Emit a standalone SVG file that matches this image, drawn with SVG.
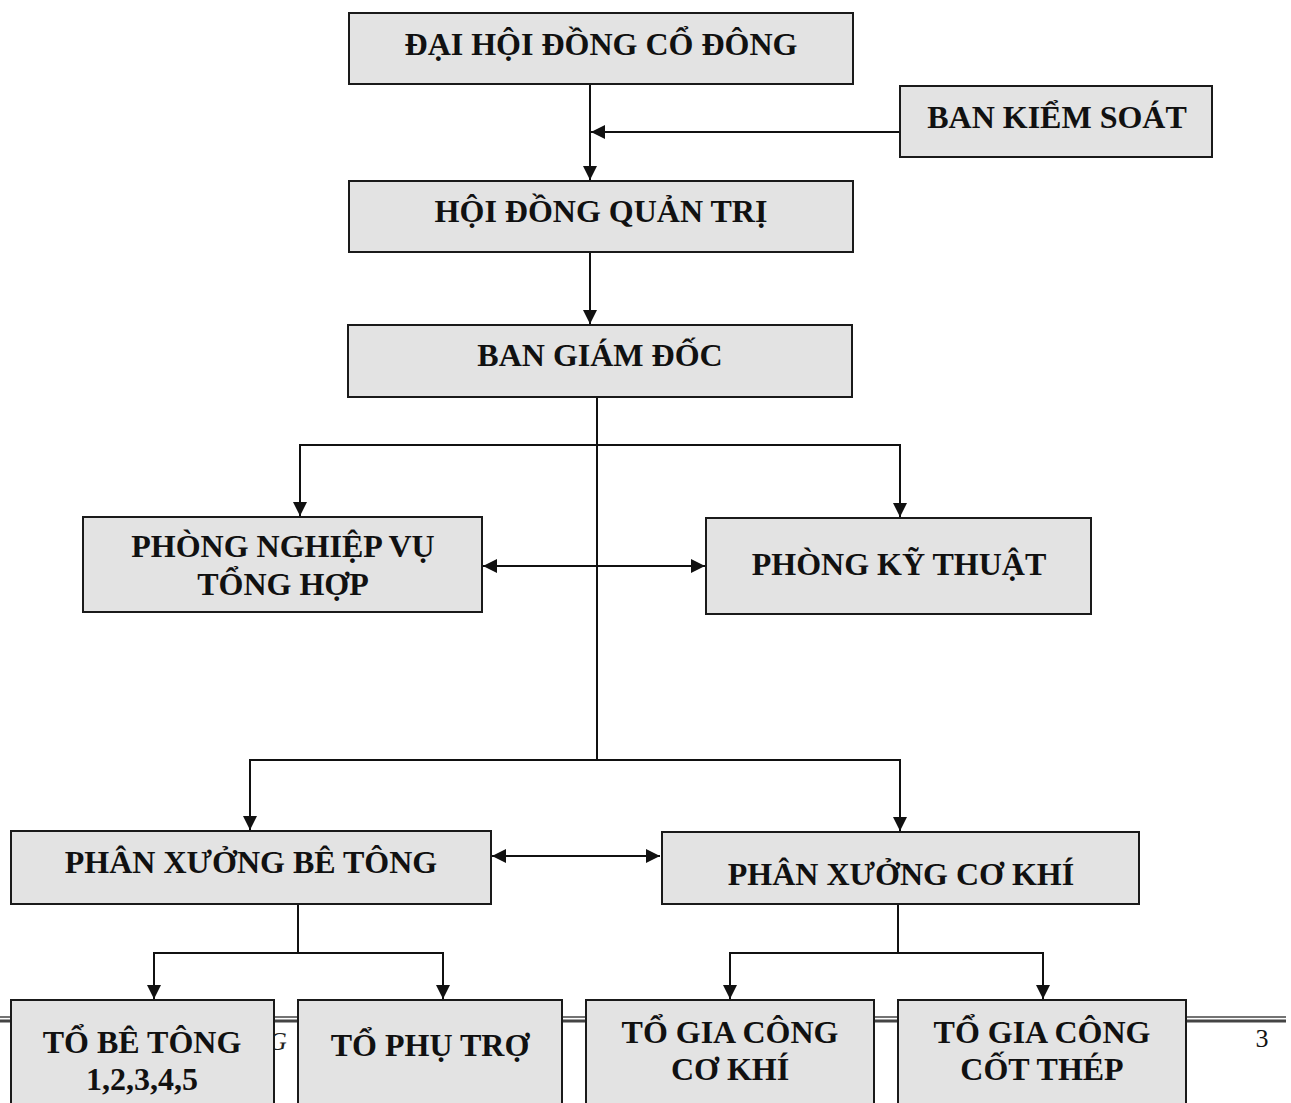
<svg xmlns="http://www.w3.org/2000/svg" width="1291" height="1103" viewBox="0 0 1291 1103">
<style>
.box{fill:#e3e3e3;stroke:#1a1a1a;stroke-width:2}
.t{font-family:"Liberation Serif","Times New Roman",serif;font-weight:bold;font-size:32px;fill:#111;text-anchor:middle}
.c{fill:none;stroke:#111;stroke-width:2}
</style>
<defs>
<marker id="ah" viewBox="0 0 14 14" refX="14" refY="7" markerWidth="14" markerHeight="14" markerUnits="userSpaceOnUse" orient="auto-start-reverse">
<path d="M0,0 L14,7 L0,14 Z" fill="#111"/>
</marker>
</defs>
<rect width="1291" height="1103" fill="#fff"/>
<g id="footer">
<line x1="0" y1="1017" x2="1286" y2="1017" stroke="#444" stroke-width="1.5"/>
<line x1="0" y1="1021" x2="1286" y2="1021" stroke="#444" stroke-width="3"/>
<text x="268" y="1050" font-family="Liberation Serif, serif" font-style="italic" font-size="26" fill="#222">G</text>
<text x="1262" y="1047" font-family="Liberation Serif, serif" font-size="26" fill="#111" text-anchor="middle">3</text>
</g>
<g id="connectors">
<line class="c" x1="590" y1="84" x2="590" y2="180" marker-end="url(#ah)"/>
<line class="c" x1="900" y1="132" x2="591" y2="132" marker-end="url(#ah)"/>
<line class="c" x1="590" y1="252" x2="590" y2="324" marker-end="url(#ah)"/>
<line class="c" x1="597" y1="397" x2="597" y2="760"/>
<polyline class="c" points="300,516 300,445 900,445 900,517" marker-start="url(#ah)" marker-end="url(#ah)"/>
<line class="c" x1="483" y1="566" x2="705" y2="566" marker-start="url(#ah)" marker-end="url(#ah)"/>
<polyline class="c" points="250,830 250,760 900,760 900,831" marker-start="url(#ah)" marker-end="url(#ah)"/>
<line class="c" x1="492" y1="856" x2="660" y2="856" marker-start="url(#ah)" marker-end="url(#ah)"/>
<line class="c" x1="298" y1="904" x2="298" y2="953"/>
<polyline class="c" points="154,999 154,953 443,953 443,999" marker-start="url(#ah)" marker-end="url(#ah)"/>
<line class="c" x1="898" y1="904" x2="898" y2="953"/>
<polyline class="c" points="730,999 730,953 1043,953 1043,999" marker-start="url(#ah)" marker-end="url(#ah)"/>
</g>
<g id="dhdcd"><rect class="box" x="349" y="13" width="504" height="71"/><text class="t" x="601" y="55">ĐẠI HỘI ĐỒNG CỔ ĐÔNG</text></g>
<g id="bks"><rect class="box" x="900" y="86" width="312" height="71"/><text class="t" x="1057" y="128">BAN KIỂM SOÁT</text></g>
<g id="hdqt"><rect class="box" x="349" y="181" width="504" height="71"/><text class="t" x="601" y="222">HỘI ĐỒNG QUẢN TRỊ</text></g>
<g id="bgd"><rect class="box" x="348" y="325" width="504" height="72"/><text class="t" x="600" y="366">BAN GIÁM ĐỐC</text></g>
<g id="pnvth"><rect class="box" x="83" y="517" width="399" height="95"/><text class="t" x="283" y="557">PHÒNG NGHIỆP VỤ</text><text class="t" x="283" y="595">TỔNG HỢP</text></g>
<g id="pkt"><rect class="box" x="706" y="518" width="385" height="96"/><text class="t" x="899" y="575">PHÒNG KỸ THUẬT</text></g>
<g id="pxbt"><rect class="box" x="11" y="831" width="480" height="73"/><text class="t" x="251" y="873">PHÂN XƯỞNG BÊ TÔNG</text></g>
<g id="pxck"><rect class="box" x="662" y="832" width="477" height="72"/><text class="t" x="901" y="885">PHÂN XƯỞNG CƠ KHÍ</text></g>
<g id="tbt"><rect class="box" x="11" y="1000" width="263" height="110"/><text class="t" x="142" y="1053">TỔ BÊ TÔNG</text><text class="t" x="142" y="1090">1,2,3,4,5</text></g>
<g id="tpt"><rect class="box" x="298" y="1000" width="264" height="110"/><text class="t" x="430" y="1056">TỔ PHỤ TRỢ</text></g>
<g id="tgcck"><rect class="box" x="586" y="1000" width="288" height="110"/><text class="t" x="730" y="1043">TỔ GIA CÔNG</text><text class="t" x="730" y="1080">CƠ KHÍ</text></g>
<g id="tgcct"><rect class="box" x="898" y="1000" width="288" height="110"/><text class="t" x="1042" y="1043">TỔ GIA CÔNG</text><text class="t" x="1042" y="1080">CỐT THÉP</text></g>
</svg>
